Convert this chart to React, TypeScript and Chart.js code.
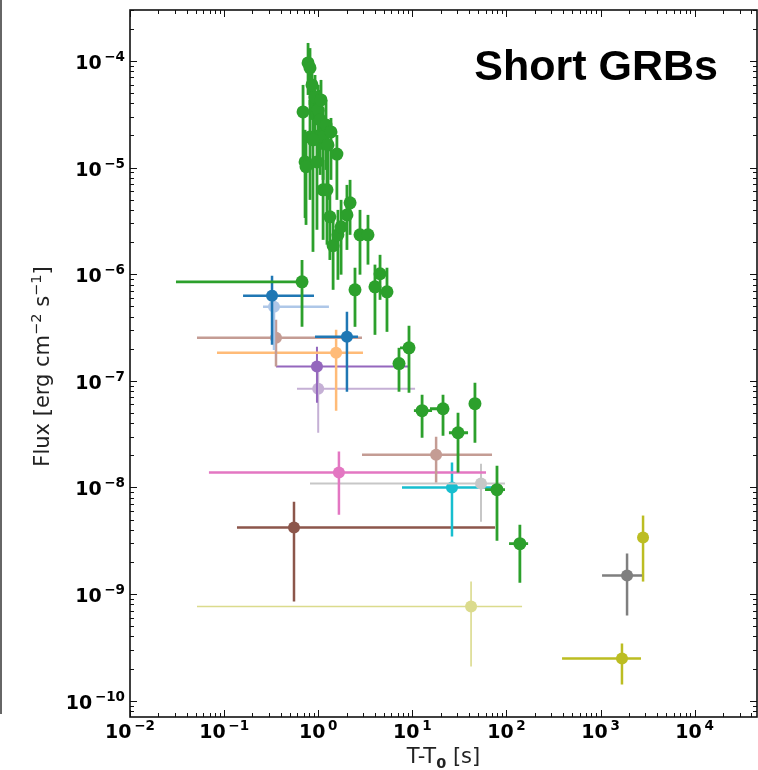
import React, { useEffect, useRef } from "react";
import { Chart, registerables } from "chart.js";

Chart.register(...registerables);

// ---------------- data ----------------
// Main (green) burst: time [s], flux and error bounds [erg cm^-2 s^-1]
const greenTime = [0.78, 0.818, 0.69, 0.925, 1.0, 0.818, 1.127, 0.88, 1.27, 1.58, 0.725, 0.742, 0.97, 1.048, 1.127, 1.24, 1.33, 1.44, 1.62, 1.75, 2.02, 2.18, 2.78, 3.38, 2.46, 4.01, 4.54, 5.38, 0.673, 7.22, 9.22, 12.7, 21.2, 30.6, 46.3, 79.4, 139, 0.859, 1.071, 1.21, 1.367];
const greenFlux = [9.58e-5, 8.6e-5, 3.33e-5, 4.6e-5, 3.47e-5, 1.94e-5, 1.94e-5, 1.82e-5, 1.63e-5, 1.34e-5, 1.13e-5, 1.02e-5, 1.13e-5, 2.8e-5, 6.18e-6, 6.18e-6, 3.45e-6, 1.85e-6, 2.34e-6, 2.78e-6, 3.6e-6, 4.67e-6, 2.34e-6, 2.34e-6, 7.14e-7, 7.62e-7, 1.01e-6, 6.84e-7, 8.49e-7, 1.45e-7, 2.04e-7, 5.25e-8, 5.47e-8, 3.26e-8, 6.1e-8, 9.53e-9, 2.97e-9, 5.96e-5, 4.31e-5, 2.51e-5, 2.16e-5];
const greenFluxLow = [4.8e-5, 3.87e-5, 1.18e-5, 1.82e-5, 1.06e-5, 4.98e-6, 7.67e-6, 1.62e-6, 4.98e-6, 4.98e-6, 3.37e-6, 2.9e-6, 2.61e-6, 8.54e-6, 2.1e-6, 1.89e-6, 1.36e-6, 7.14e-7, 8.86e-7, 9.9e-7, 1.69e-6, 2.34e-6, 9.9e-7, 1.23e-6, 3.21e-7, 2.7e-7, 5.75e-7, 2.88e-7, 3.21e-7, 7.9e-8, 7.75e-8, 2.93e-8, 3.06e-8, 1.38e-8, 2.63e-8, 3.17e-9, 1.28e-9, 2.8e-5, 1.47e-5, 9.51e-6, 7.67e-6];
const greenFluxHigh = [1.475e-4, 1.32e-4, 5.96e-5, 7.39e-5, 5.96e-5, 4.31e-5, 3.47e-5, 4.8e-5, 2.8e-5, 2.02e-5, 2.26e-5, 1.82e-5, 2.26e-5, 5.35e-5, 1.18e-5, 1.06e-5, 5.55e-6, 3.24e-6, 4.01e-6, 4.98e-6, 6.88e-6, 7.67e-6, 4.01e-6, 3.6e-6, 1.15e-6, 1.23e-6, 1.52e-6, 1.15e-6, 1.36e-6, 2.04e-7, 3.28e-7, 7.41e-8, 7.41e-8, 5.02e-8, 9.6e-8, 1.6e-8, 4.48e-9, 9.17e-5, 6.64e-5, 4.31e-5, 2.92e-5];
const greenTimeLow: (number | null)[] = [null, null, null, null, null, null, null, null, null, null, null, null, null, null, null, null, null, null, null, null, null, null, null, null, null, null, null, null, 0.0308, null, 7.4, 10.4, 15.4, 24.5, 43.1, 59.3, 106.7, null, null, null, null];
const greenTimeHigh: (number | null)[] = [null, null, null, null, null, null, null, null, null, null, null, null, null, null, null, null, null, null, null, null, null, null, null, null, null, null, null, null, 0.725, null, 10.4, 16.2, 22.8, 39.1, 49.9, 96.6, 170, null, null, null, null];

// Other bursts
const otherSeries = ["blue", "blue", "lightBlue", "rosy", "rosy", "orange", "purple", "lightPurple", "pink", "lightGrey", "cyan", "brown", "lightOlive", "grey", "olive", "olive"];
const otherTime = [0.323, 2.02, 0.339, 0.356, 17.9, 1.55, 0.97, 1.0, 1.66, 53.7, 26.4, 0.553, 42.1, 1914, 2831, 1690];
const otherFlux = [6.28e-7, 2.59e-7, 4.95e-7, 2.54e-7, 2.03e-8, 1.83e-7, 1.36e-7, 8.43e-8, 1.38e-8, 1.09e-8, 1.0e-8, 4.2e-9, 7.64e-10, 1.49e-9, 3.39e-9, 2.49e-10];
const otherFluxLow = [2.18e-7, 7.9e-8, 1.95e-7, 1.36e-7, 1.11e-8, 5.25e-8, 6.24e-8, 3.26e-8, 5.56e-9, 4.77e-9, 3.46e-9, 8.5e-10, 2.09e-10, 6.3e-10, 1.31e-9, 1.42e-10];
const otherFluxHigh = [9.66e-7, 4.45e-7, 7.1e-7, 3.74e-7, 2.99e-8, 3.01e-7, 2.09e-7, 1.22e-7, 2.17e-8, 1.67e-8, 1.71e-8, 7.36e-9, 1.31e-9, 2.4e-9, 5.45e-9, 3.44e-10];
const otherTimeLow: (number | null)[] = [0.159, 0.925, 0.259, 0.0515, 2.92, 0.084, 0.356, 0.595, 0.069, 0.818, 7.77, 0.137, 0.0515, 1038, null, 390];
const otherTimeHigh: (number | null)[] = [0.902, 2.65, 1.3, 2.92, 70.3, 2.99, 9.45, 10.7, 60.7, 96.6, 89.8, 75.7, 146.6, 2761, null, 2692];

// Axes
const xTickExponents = [-2, -1, 0, 1, 2, 3, 4];
const yTickExponents = [-10, -9, -8, -7, -6, -5, -4];
const xMin = 0.01;
const xMax = 4.6e4;
const yMin = Math.pow(10, -10.153);
const yMax = Math.pow(10, -3.522);

const annotationText = "Short GRBs";

// ---------------- styles ----------------
const seriesStyle: Record<string, { color: string; width: number; radius: number }> = {
  green: { color: "#2ca02c", width: 2.8, radius: 6.5 },
  blue: { color: "#1f77b4", width: 2.5, radius: 6 },
  lightBlue: { color: "#aec7e8", width: 2.5, radius: 6 },
  rosy: { color: "#c49c94", width: 2.5, radius: 6 },
  orange: { color: "#ffbb78", width: 2.5, radius: 6 },
  purple: { color: "#9467bd", width: 2, radius: 6 },
  lightPurple: { color: "#c5b0d5", width: 2, radius: 6 },
  pink: { color: "#e377c2", width: 2.5, radius: 6 },
  lightGrey: { color: "#c7c7c7", width: 2, radius: 6 },
  cyan: { color: "#17becf", width: 2.5, radius: 6 },
  brown: { color: "#8c564b", width: 2.5, radius: 6 },
  lightOlive: { color: "#dbdb8d", width: 1.6, radius: 6 },
  grey: { color: "#7f7f7f", width: 2.5, radius: 6 },
  olive: { color: "#bcbd22", width: 2.5, radius: 6 },
};

const W = 758;
const H = 770;
const BASE_FONT = "bold 19px 'DejaVu Sans'";
const SUP_FONT = "bold 13.5px 'DejaVu Sans'";
const LABEL_FONT = "21px 'DejaVu Sans'";
const LABEL_SUP_FONT = "14.5px 'DejaVu Sans'";
const LABEL_SUB_FONT = "bold 14.5px 'DejaVu Sans'";

type Pt = { x: number; y: number; yLo: number; yHi: number; xLo: number | null; xHi: number | null };

function buildDatasets() {
  const sets: any[] = [];
  const gPts: Pt[] = greenTime.map((t, i) => ({
    x: t,
    y: greenFlux[i],
    yLo: greenFluxLow[i],
    yHi: greenFluxHigh[i],
    xLo: greenTimeLow[i],
    xHi: greenTimeHigh[i],
  }));
  const names: string[] = [];
  otherSeries.forEach((n) => {
    if (!names.includes(n)) names.push(n);
  });
  const mk = (name: string, pts: Pt[]) => {
    const st = seriesStyle[name];
    return {
      label: name,
      data: pts,
      backgroundColor: st.color,
      borderColor: st.color,
      pointBackgroundColor: st.color,
      pointBorderColor: st.color,
      pointBorderWidth: 0,
      pointRadius: st.radius,
      pointHoverRadius: st.radius,
      showLine: false,
      errColor: st.color,
      errWidth: st.width,
    };
  };
  sets.push(mk("green", gPts));
  names.forEach((n) => {
    const pts: Pt[] = [];
    otherSeries.forEach((s, i) => {
      if (s === n)
        pts.push({
          x: otherTime[i],
          y: otherFlux[i],
          yLo: otherFluxLow[i],
          yHi: otherFluxHigh[i],
          xLo: otherTimeLow[i],
          xHi: otherTimeHigh[i],
        });
    });
    sets.push(mk(n, pts));
  });
  return sets;
}

const errorBarPlugin = {
  id: "errorBars",
  beforeDatasetDraw(chart: any, args: any) {
    const ds = chart.data.datasets[args.index];
    const xs = chart.scales.x;
    const ys = chart.scales.y;
    const ctx: CanvasRenderingContext2D = chart.ctx;
    const a = chart.chartArea;
    ctx.save();
    ctx.beginPath();
    ctx.rect(a.left, a.top, a.right - a.left, a.bottom - a.top);
    ctx.clip();
    ctx.strokeStyle = ds.errColor;
    ctx.lineWidth = ds.errWidth;
    ctx.lineCap = "butt";
    ds.data.forEach((p: Pt) => {
      const px = xs.getPixelForValue(p.x);
      const py = ys.getPixelForValue(p.y);
      ctx.beginPath();
      ctx.moveTo(px, ys.getPixelForValue(p.yLo));
      ctx.lineTo(px, ys.getPixelForValue(p.yHi));
      if (p.xLo != null && p.xHi != null) {
        ctx.moveTo(xs.getPixelForValue(p.xLo), py);
        ctx.lineTo(xs.getPixelForValue(p.xHi), py);
      }
      ctx.stroke();
    });
    ctx.restore();
  },
};

type Seg = { text: string; font: string; dy: number };

function segsWidth(ctx: CanvasRenderingContext2D, segs: Seg[]) {
  let w = 0;
  segs.forEach((s) => {
    ctx.font = s.font;
    w += ctx.measureText(s.text).width;
  });
  return w;
}

function drawSegs(ctx: CanvasRenderingContext2D, segs: Seg[], x: number, y: number) {
  let cx = x;
  segs.forEach((s) => {
    ctx.font = s.font;
    ctx.fillText(s.text, cx, y + s.dy);
    cx += ctx.measureText(s.text).width;
  });
}

function powSegs(exp: number): Seg[] {
  const sup = exp < 0 ? "\u2212" + Math.abs(exp) : String(exp);
  return [
    { text: "10", font: BASE_FONT, dy: 0 },
    { text: "\u2009", font: SUP_FONT, dy: 0 },
    { text: sup, font: SUP_FONT, dy: -8 },
  ];
}

const axesPlugin = {
  id: "mplAxes",
  afterDatasetsDraw(chart: any) {
    const ctx: CanvasRenderingContext2D = chart.ctx;
    const a = chart.chartArea;
    const xs = chart.scales.x;
    const ys = chart.scales.y;
    ctx.save();
    // ticks (inward, all four sides)
    ctx.strokeStyle = "#111";
    ctx.lineWidth = 1;
    const majorLen = 7;
    const minorLen = 4;
    for (let d = -3; d <= 5; d++) {
      for (let k = 1; k <= 9; k++) {
        const v = k * Math.pow(10, d);
        if (v < xMin * 0.999 || v > xMax) continue;
        const px = Math.round(xs.getPixelForValue(v)) + 0.5;
        const len = k === 1 ? majorLen : minorLen;
        ctx.beginPath();
        ctx.moveTo(px, a.bottom);
        ctx.lineTo(px, a.bottom - len);
        ctx.moveTo(px, a.top);
        ctx.lineTo(px, a.top + len);
        ctx.stroke();
      }
    }
    for (let d = -11; d <= -3; d++) {
      for (let k = 1; k <= 9; k++) {
        const v = k * Math.pow(10, d);
        if (v < yMin || v > yMax) continue;
        const py = Math.round(ys.getPixelForValue(v)) + 0.5;
        const len = k === 1 ? majorLen : minorLen;
        ctx.beginPath();
        ctx.moveTo(a.left, py);
        ctx.lineTo(a.left + len, py);
        ctx.moveTo(a.right, py);
        ctx.lineTo(a.right - len, py);
        ctx.stroke();
      }
    }
    // frame
    ctx.lineWidth = 1.6;
    ctx.strokeStyle = "#111";
    ctx.strokeRect(a.left, a.top, a.right - a.left, a.bottom - a.top);

    // tick labels
    ctx.fillStyle = "#000";
    ctx.textAlign = "left";
    ctx.textBaseline = "alphabetic";
    xTickExponents.forEach((e) => {
      const px = xs.getPixelForValue(Math.pow(10, e));
      const segs = powSegs(e);
      const w = segsWidth(ctx, segs);
      drawSegs(ctx, segs, px - w / 2, a.bottom + 21);
    });
    yTickExponents.forEach((e) => {
      const py = ys.getPixelForValue(Math.pow(10, e));
      const segs = powSegs(e);
      const w = segsWidth(ctx, segs);
      drawSegs(ctx, segs, a.left - 5 - w, py + 8);
    });

    // axis titles
    ctx.fillStyle = "#222";
    const xt: Seg[] = [
      { text: "T-T", font: LABEL_FONT, dy: 0 },
      { text: "0", font: LABEL_SUB_FONT, dy: 5 },
      { text: " [s]", font: LABEL_FONT, dy: 0 },
    ];
    const xw = segsWidth(ctx, xt);
    drawSegs(ctx, xt, (a.left + a.right) / 2 - xw / 2, 763);

    const yt: Seg[] = [
      { text: "Flux [erg cm", font: LABEL_FONT, dy: 0 },
      { text: "\u22122", font: LABEL_SUP_FONT, dy: -8 },
      { text: " s", font: LABEL_FONT, dy: 0 },
      { text: "\u22121", font: LABEL_SUP_FONT, dy: -8 },
      { text: "]", font: LABEL_FONT, dy: 0 },
    ];
    const yw = segsWidth(ctx, yt);
    ctx.save();
    ctx.translate(49, (a.top + a.bottom) / 2 + 3);
    ctx.rotate(-Math.PI / 2);
    drawSegs(ctx, yt, -yw / 2, 0);
    ctx.restore();

    // annotation
    ctx.fillStyle = "#000";
    ctx.font = "bold 43px 'Liberation Sans', Arial, sans-serif";
    ctx.fillText(annotationText, a.left + 0.549 * (a.right - a.left), a.top + 0.099 * (a.bottom - a.top));

    // left edge line (neighbouring panel border)
    ctx.strokeStyle = "#666";
    ctx.lineWidth = 2;
    ctx.beginPath();
    ctx.moveTo(1, 0);
    ctx.lineTo(1, 714);
    ctx.stroke();
    ctx.restore();
  },
};

export default function App() {
  const ref = useRef<HTMLCanvasElement | null>(null);
  useEffect(() => {
    if (!ref.current) return;
    const chart = new Chart(ref.current, {
      type: "scatter",
      data: { datasets: buildDatasets() },
      options: {
        responsive: false,
        animation: false,
        devicePixelRatio: 1,
        layout: { autoPadding: false, padding: { left: 0, right: 1, top: 10, bottom: 0 } },
        plugins: {
          legend: { display: false },
          tooltip: { enabled: false },
          title: { display: false },
        },
        scales: {
          x: {
            type: "logarithmic",
            position: "bottom",
            min: xMin,
            max: xMax,
            grid: { display: false },
            border: { display: false },
            ticks: { display: false },
            afterFit: (s: any) => {
              s.height = 53;
            },
          },
          y: {
            type: "logarithmic",
            position: "left",
            min: yMin,
            max: yMax,
            grid: { display: false },
            border: { display: false },
            ticks: { display: false },
            afterFit: (s: any) => {
              s.width = 130;
            },
          },
        },
      } as any,
      plugins: [errorBarPlugin, axesPlugin],
    });
    return () => chart.destroy();
  }, []);
  return (
    <div style={{ position: "absolute", left: 0, top: 0, width: W, height: H, background: "#fff" }}>
      <canvas ref={ref} width={W} height={H} style={{ display: "block", width: W, height: H }} />
    </div>
  );
}
